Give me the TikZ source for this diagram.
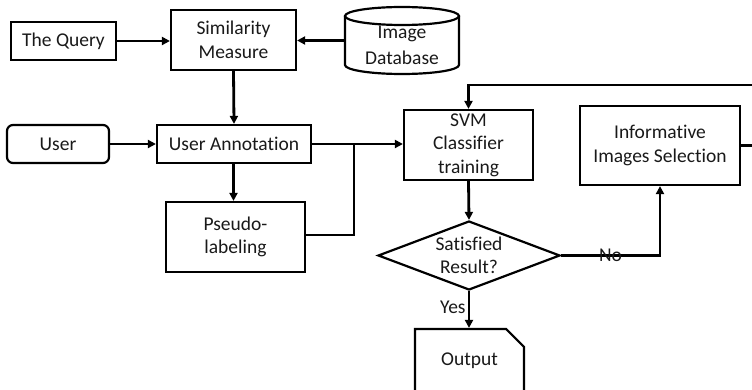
\documentclass[tikz,border=0pt]{standalone}
\usepackage{fontspec}
\setmainfont{Carlito}[Ligatures=NoCommon]
\usetikzlibrary{arrows.meta,shapes.geometric,shapes.misc}
\begin{document}
\begin{tikzpicture}[x=1pt,y=-1pt,
  every node/.style={font=\fontsize{19.5}{23.5}\selectfont, text=black!90, align=center},
  box/.style={draw, line width=2.2pt, inner sep=0pt},
  flow/.style={line width=2.8pt, -{Triangle[length=8pt,width=8pt]}},
  link/.style={line width=2.8pt}]
\useasboundingbox (0,0) rectangle (752,390);

% boxes
\node[box, minimum width=105, minimum height=38] (query) at (63.5,41) {The Query};
\node[box, minimum width=125, minimum height=60] (sim) at (233.5,40) {Similarity\\Measure};
\node[box, rounded corners=6pt, minimum width=102, minimum height=38] (user) at (58,144) {User};
\node[box, minimum width=154, minimum height=38] (ua) at (234,144) {User Annotation};
\node[box, minimum width=139, minimum height=70] (pseudo) at (235.5,237) {Pseudo-\\labeling};
\node[box, minimum width=129, minimum height=70] (svm) at (468.5,145) {SVM\\Classifier\\training};
\node[box, minimum width=160, minimum height=79] (inf) at (660,145.5) {Informative\\Images Selection};
\node[draw, line width=2.2pt, diamond, inner sep=0pt, minimum width=182, minimum height=69] (dec) at (469,255.5) {};
\node at (dec) {Satisfied\\Result?};
\node[box, chamfered rectangle, chamfered rectangle corners=north east, chamfered rectangle xsep=10pt, chamfered rectangle ysep=10pt, minimum width=109, minimum height=63] (out) at (469.5,360.5) {Output};

% image database (cylinder); the top rim runs across the label
\node[minimum width=114, minimum height=67, inner sep=0pt] (db) at (402,40.5) {};
\node at (402,45.5) {Image\\[3pt]Database};
\draw[line width=2.2pt] (345,16) -- (345,65) arc[start angle=180, end angle=0, x radius=57, y radius=9] -- (459,16);
\draw[line width=2.2pt] (402,16) ellipse[x radius=57, y radius=9];

% connectors
\draw[flow] (query.east) -- (sim.west |- query.east);
\draw[flow] (db.west) -- (sim.east |- db.west);
\draw[flow] (sim.south) -- (ua.north);
\draw[flow] (user.east) -- (ua.west);
\draw[flow] (ua.south -| pseudo.north) ++(-2,0) -- ([xshift=-2pt]pseudo.north);
\draw[flow] (ua.east) -- (svm.west |- ua.east);
\coordinate (jn) at (354,144);
\draw[link] ([yshift=2pt]pseudo.east) -| (jn);
\draw[flow] (svm.south) -- (dec.north);
\draw[flow] (dec.south) -- node[left, pos=0.45, inner sep=2pt] {Yes} (out.north -| dec.south);
\draw[flow] (dec.east) -| node[pos=0.25, inner sep=0pt] {No} (inf.south);
\coordinate (loop) at (764,85);
\draw[flow] (inf.east) -| (loop) -| (svm.north);
\end{tikzpicture}
\end{document}
